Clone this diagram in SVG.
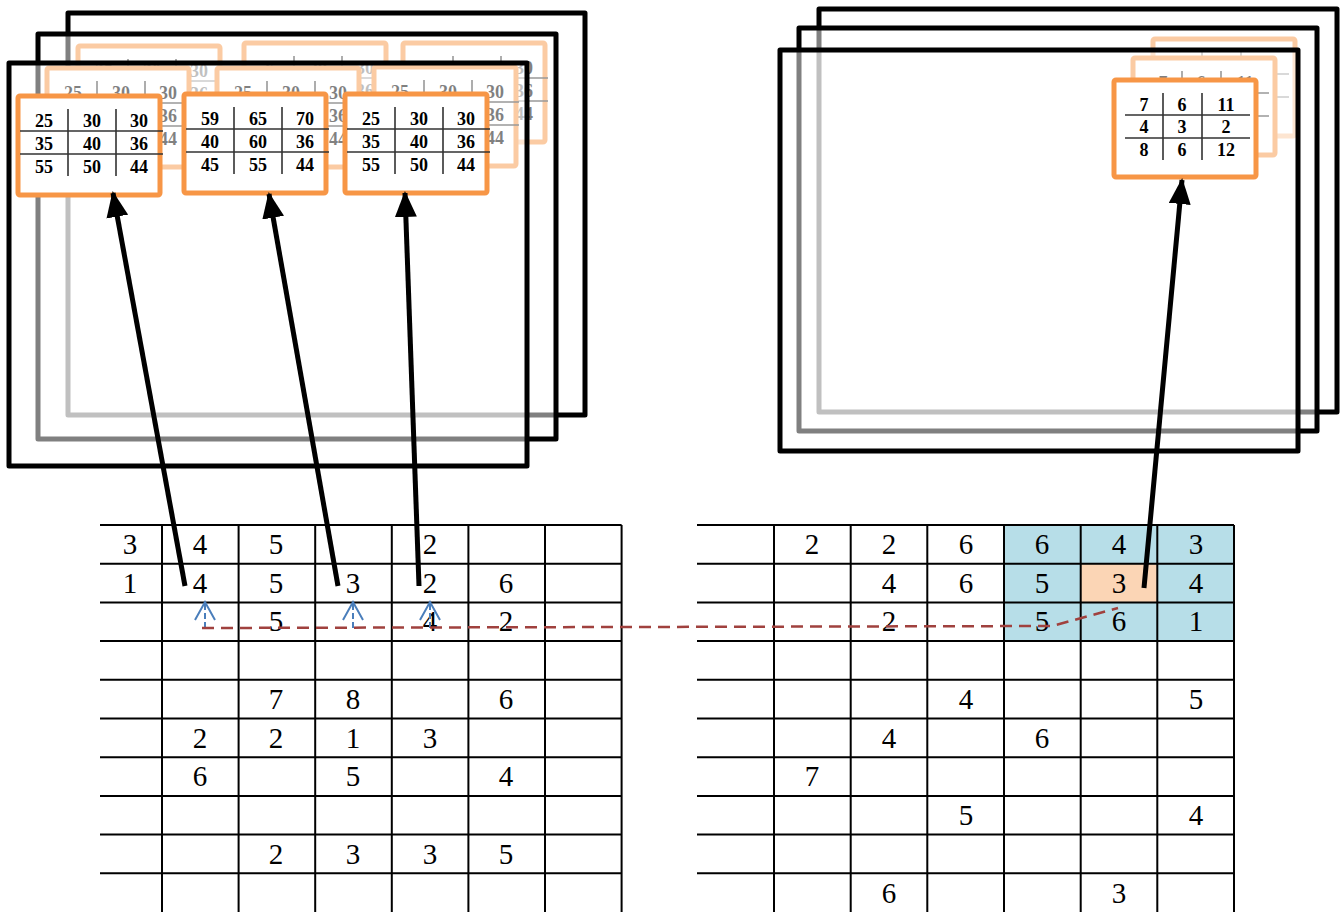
<svg xmlns="http://www.w3.org/2000/svg" xmlns:xlink="http://www.w3.org/1999/xlink" width="1341" height="912" viewBox="0 0 1341 912">
<style>
.frame{fill:#fff;fill-opacity:.5;stroke:#000;stroke-width:5;stroke-linejoin:round}
.tb{fill:#fff;stroke:#F79646;stroke-width:5;stroke-linejoin:round}
.tl{stroke:#333;stroke-width:1.6;fill:none}
.tt{font-family:"Liberation Serif",serif;font-weight:bold;font-size:18px;text-anchor:middle;fill:#000}
.gl{stroke:#000;stroke-width:2;fill:none}
.gt{font-family:"Liberation Serif",serif;font-size:29px;text-anchor:middle;fill:#000}
.arr{stroke:#000;stroke-width:5;fill:none;marker-end:url(#ah)}
.bd{stroke:#4A7EBB;stroke-width:2;fill:none;stroke-dasharray:6 3}
.bh{stroke:#4A7EBB;stroke-width:2;fill:none}
.rd{stroke:#A0413E;stroke-width:2.5;fill:none;stroke-dasharray:12 7}
</style>
<defs>
<marker id="ah" markerUnits="userSpaceOnUse" viewBox="0 0 26 22" refX="24" refY="11" markerWidth="26" markerHeight="22" orient="auto">
<path d="M0,0 L26,11 L0,22 z" fill="#000"/>
</marker>
<g id="tA">
<rect class="tb" x="0" y="0" width="142" height="99" rx="2"/>
<path class="tl" d="M50,13V80M98,13V80M2,35H145M2,58H145"/>
<text class="tt" x="26" y="31">25</text><text class="tt" x="74" y="31">30</text><text class="tt" x="121" y="31">30</text>
<text class="tt" x="26" y="54">35</text><text class="tt" x="74" y="54">40</text><text class="tt" x="121" y="54">36</text>
<text class="tt" x="26" y="77">55</text><text class="tt" x="74" y="77">50</text><text class="tt" x="121" y="77">44</text>
</g>
<g id="tB">
<rect class="tb" x="0" y="0" width="142" height="99" rx="2"/>
<path class="tl" d="M50,13V80M98,13V80M2,35H145M2,58H145"/>
<text class="tt" x="26" y="31">59</text><text class="tt" x="74" y="31">65</text><text class="tt" x="121" y="31">70</text>
<text class="tt" x="26" y="54">40</text><text class="tt" x="74" y="54">60</text><text class="tt" x="121" y="54">36</text>
<text class="tt" x="26" y="77">45</text><text class="tt" x="74" y="77">55</text><text class="tt" x="121" y="77">44</text>
</g>
<g id="tR">
<rect class="tb" x="0" y="0" width="142" height="97" rx="2"/>
<path class="tl" d="M49,13V80M88,13V80M11,35H136M11,58H136"/>
<text class="tt" x="30" y="31">7</text><text class="tt" x="68" y="31">6</text><text class="tt" x="112" y="31">11</text>
<text class="tt" x="30" y="53">4</text><text class="tt" x="68" y="53">3</text><text class="tt" x="112" y="53">2</text>
<text class="tt" x="30" y="76">8</text><text class="tt" x="68" y="76">6</text><text class="tt" x="112" y="76">12</text>
</g>
</defs>
<rect x="0" y="0" width="1341" height="912" fill="#fff"/>

<g id="left-stack">
<g id="left-back">
<rect class="frame" x="68" y="13" width="517" height="402"/>
<use href="#tA" x="78" y="46"/><use href="#tA" x="244" y="43"/><use href="#tA" x="403" y="43"/>
</g>
<g id="left-middle">
<rect class="frame" x="38" y="34" width="518" height="405"/>
<use href="#tA" x="47" y="68"/><use href="#tA" x="217" y="68"/><use href="#tA" x="374" y="67"/>
</g>
<g id="left-front">
<rect class="frame" x="9" y="63" width="518" height="403"/>
<g id="table-a"><use href="#tA" x="18" y="96"/></g>
<g id="table-b"><use href="#tB" x="184" y="94"/></g>
<g id="table-c"><use href="#tA" x="345" y="94"/></g>
</g>
</g>

<g id="right-stack">
<g id="right-back">
<rect class="frame" x="819" y="9" width="518" height="403"/>
<use href="#tR" x="1153" y="39"/>
</g>
<g id="right-middle">
<rect class="frame" x="799" y="28" width="518" height="403"/>
<use href="#tR" x="1133" y="58"/>
</g>
<g id="right-front">
<rect class="frame" x="780" y="50" width="518" height="401"/>
<g id="table-r"><use href="#tR" x="1114" y="80"/></g>
</g>
</g>

<g id="left-grid">
<path class="gl" d="M100,525H621.6M100,563.7H621.6M100,602.4H621.6M100,641.1H621.6M100,679.8H621.6M100,718.5H621.6M100,757.2H621.6M100,795.9H621.6M100,834.6H621.6M100,873.3H621.6M162,525V912M238.6,525V912M315.2,525V912M391.8,525V912M468.4,525V912M545,525V912M621.6,525V912"/>
<text class="gt" x="130" y="554">3</text><text class="gt" x="200" y="554">4</text><text class="gt" x="276" y="554">5</text><text class="gt" x="430" y="554">2</text>
<text class="gt" x="130" y="593">1</text><text class="gt" x="200" y="593">4</text><text class="gt" x="276" y="593">5</text><text class="gt" x="353" y="593">3</text><text class="gt" x="430" y="593">2</text><text class="gt" x="506" y="593">6</text>
<text class="gt" x="276" y="631">5</text><text class="gt" x="430" y="631">4</text><text class="gt" x="506" y="631">2</text>
<text class="gt" x="276" y="709">7</text><text class="gt" x="353" y="709">8</text><text class="gt" x="506" y="709">6</text>
<text class="gt" x="200" y="748">2</text><text class="gt" x="276" y="748">2</text><text class="gt" x="353" y="748">1</text><text class="gt" x="430" y="748">3</text>
<text class="gt" x="200" y="786">6</text><text class="gt" x="353" y="786">5</text><text class="gt" x="506" y="786">4</text>
<text class="gt" x="276" y="864">2</text><text class="gt" x="353" y="864">3</text><text class="gt" x="430" y="864">3</text><text class="gt" x="506" y="864">5</text>
</g>

<g id="right-grid">
<rect x="1004" y="525" width="230" height="116.1" fill="#B7DEE8"/>
<rect x="1080.7" y="563.7" width="76.6" height="38.7" fill="#FBD5B5"/>
<path class="gl" d="M697,525H1234M697,563.7H1234M697,602.4H1234M697,641.1H1234M697,679.8H1234M697,718.5H1234M697,757.2H1234M697,795.9H1234M697,834.6H1234M697,873.3H1234M774,525V912M850.7,525V912M927.3,525V912M1004,525V912M1080.7,525V912M1157.3,525V912M1234,525V912"/>
<text class="gt" x="812" y="554">2</text><text class="gt" x="889" y="554">2</text><text class="gt" x="966" y="554">6</text><text class="gt" x="1042" y="554">6</text><text class="gt" x="1119" y="554">4</text><text class="gt" x="1196" y="554">3</text>
<text class="gt" x="889" y="593">4</text><text class="gt" x="966" y="593">6</text><text class="gt" x="1042" y="593">5</text><text class="gt" x="1119" y="593">3</text><text class="gt" x="1196" y="593">4</text>
<text class="gt" x="889" y="631">2</text><text class="gt" x="1042" y="631">5</text><text class="gt" x="1119" y="631">6</text><text class="gt" x="1196" y="631">1</text>
<text class="gt" x="966" y="709">4</text><text class="gt" x="1196" y="709">5</text>
<text class="gt" x="889" y="748">4</text><text class="gt" x="1042" y="748">6</text>
<text class="gt" x="812" y="786">7</text>
<text class="gt" x="966" y="825">5</text><text class="gt" x="1196" y="825">4</text>
<text class="gt" x="889" y="903">6</text><text class="gt" x="1119" y="903">3</text>
</g>

<g id="connectors">
<line class="arr" x1="185" y1="586" x2="113" y2="193"/>
<line class="arr" x1="338" y1="586" x2="269" y2="194"/>
<line class="arr" x1="419" y1="586" x2="405" y2="193"/>
<line class="arr" x1="1144" y1="588" x2="1182" y2="180"/>
<line class="bd" x1="205" y1="628" x2="205" y2="604"/>
<polyline class="bh" points="195,620 205,602 215,620"/>
<line class="bd" x1="353" y1="628" x2="353" y2="604"/>
<polyline class="bh" points="343,620 353,602 363,620"/>
<line class="bd" x1="430" y1="628" x2="430" y2="604"/>
<polyline class="bh" points="420,620 430,602 440,620"/>
<path class="rd" d="M202,628 L1052,626 L1118,608"/>
</g>
</svg>
